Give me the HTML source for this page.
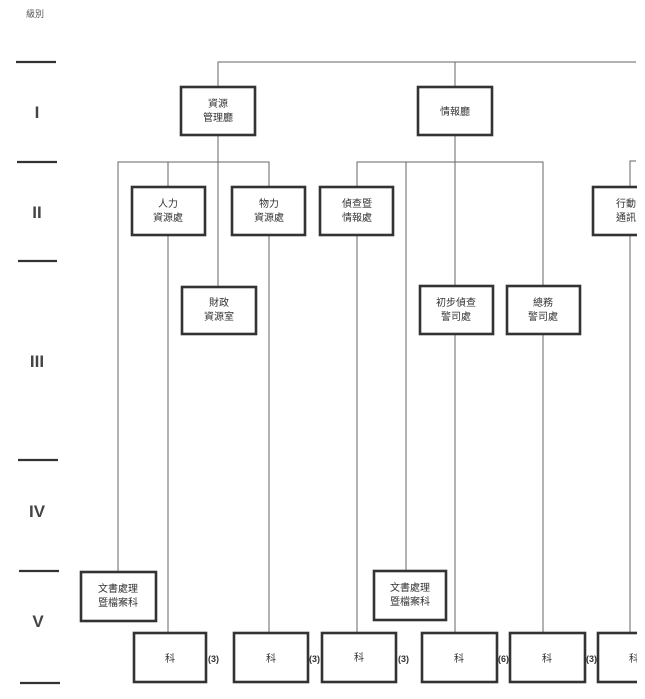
<!DOCTYPE html>
<html><head><meta charset="utf-8"><style>
html,body{margin:0;padding:0;background:#fff;}
svg{display:block;}
text{font-family:"Liberation Sans","Noto Sans CJK TC",sans-serif;fill:#333;}
.b{fill:#fff;stroke:#333;stroke-width:2.6;}
.l{stroke:#666;stroke-width:1;fill:none;}
.m{stroke:#333;stroke-width:2.2;}
.t{font-size:10px;text-anchor:middle;}
.r{font-size:17px;text-anchor:middle;fill:#444;font-weight:bold;}
.n{font-size:9px;font-weight:bold;fill:#333;}
</style></head><body>
<svg width="645" height="699" viewBox="0 0 645 699">
<text x="26" y="17" style="font-size:9px;fill:#555">級別</text>
<line class="m" x1="16" y1="62" x2="56" y2="62"/>
<line class="m" x1="17" y1="162" x2="57" y2="162"/>
<line class="m" x1="18" y1="261" x2="57" y2="261"/>
<line class="m" x1="18" y1="460" x2="58" y2="460"/>
<line class="m" x1="19" y1="571" x2="59" y2="571"/>
<line class="m" x1="20" y1="683" x2="60" y2="683"/>
<text class="r" x="37" y="118">I</text>
<text class="r" x="37" y="218">II</text>
<text class="r" x="37" y="367">III</text>
<text class="r" x="37" y="517">IV</text>
<text class="r" x="38" y="627">V</text>
<path class="l" d="M218 87 V62 H636 M455 62 V87"/>
<path class="l" d="M218 135 V287 M118 572 V162 H269 V187 M168 162 V187 M269 235 V633 M168 235 V633"/>
<path class="l" d="M455 135 V287 M357 187 V162 H543 V287 M406 162 V572 M357 235 V633 M455 334 V633 M543 334 V633"/>
<path class="l" d="M636 161 H630 V187 M630 235 V633"/>
<rect class="b" x="181" y="87" width="74" height="48"/>
<text class="t" x="218" y="107">資源</text><text class="t" x="218" y="121">管理廳</text>
<rect class="b" x="418" y="87" width="74" height="48"/>
<text class="t" x="455" y="115">情報廳</text>
<rect class="b" x="132" y="187" width="73" height="48"/>
<text class="t" x="168" y="207">人力</text><text class="t" x="168" y="221">資源處</text>
<rect class="b" x="232" y="187" width="73" height="48"/>
<text class="t" x="269" y="207">物力</text><text class="t" x="269" y="221">資源處</text>
<rect class="b" x="320" y="187" width="73" height="48"/>
<text class="t" x="357" y="207">偵查暨</text><text class="t" x="357" y="221">情報處</text>
<rect class="b" x="593" y="187" width="60" height="48"/>
<text class="t" x="626" y="207">行動</text><text class="t" x="626" y="221">通訊</text>
<rect class="b" x="182" y="287" width="74" height="47"/>
<text class="t" x="219" y="306">財政</text><text class="t" x="219" y="320">資源室</text>
<rect class="b" x="420" y="286" width="73" height="48"/>
<text class="t" x="456" y="306">初步偵查</text><text class="t" x="456" y="320">警司處</text>
<rect class="b" x="507" y="286" width="73" height="48"/>
<text class="t" x="543" y="306">總務</text><text class="t" x="543" y="320">警司處</text>
<rect class="b" x="81" y="572" width="75" height="49"/>
<text class="t" x="118" y="592">文書處理</text><text class="t" x="118" y="606">暨檔案科</text>
<rect class="b" x="374" y="571" width="72" height="49"/>
<text class="t" x="410" y="591">文書處理</text><text class="t" x="410" y="605">暨檔案科</text>
<rect class="b" x="134" y="633" width="72" height="49"/><text class="t" x="170" y="662">科</text><text class="n" x="208" y="662">(3)</text>
<rect class="b" x="234" y="633" width="74" height="49"/><text class="t" x="271" y="662">科</text><text class="n" x="309" y="662">(3)</text>
<rect class="b" x="322" y="633" width="74" height="49"/><text class="t" x="359" y="661">科</text><text class="n" x="398" y="662">(3)</text>
<rect class="b" x="422" y="633" width="75" height="49"/><text class="t" x="459" y="662">科</text><text class="n" x="498" y="662">(6)</text>
<rect class="b" x="510" y="633" width="75" height="49"/><text class="t" x="547" y="662">科</text><text class="n" x="586" y="662">(3)</text>
<rect class="b" x="598" y="633" width="60" height="49"/><text class="t" x="634" y="662">科</text>
<rect x="637" y="0" width="8" height="699" fill="#fff"/>
</svg>
</body></html>
